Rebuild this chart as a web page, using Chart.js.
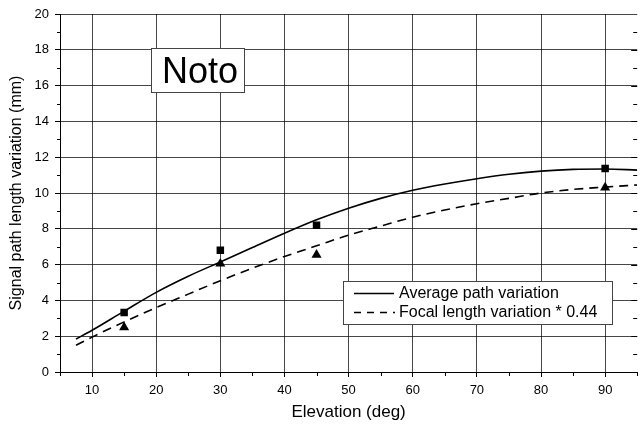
<!DOCTYPE html>
<html>
<head>
<meta charset="utf-8">
<script src="https://cdn.jsdelivr.net/npm/chart.js@4/dist/chart.umd.min.js"></script>
<style>
html,body{margin:0;padding:0;background:#fff;}
#wrap{width:643px;height:431px;position:relative;}
</style>
</head>
<body>
<div id="wrap"><canvas id="c" width="643" height="431"></canvas></div>
<script>
// ---- data ----
const curveElevation = [7.5, 10, 15, 20, 25, 30, 35, 40, 45, 50, 55, 60, 65, 70, 75, 80, 85, 90, 95];
const averagePath    = [1.84, 2.33, 3.4, 4.45, 5.35, 6.15, 6.95, 7.75, 8.5, 9.15, 9.7, 10.15, 10.5, 10.8, 11.05, 11.22, 11.32, 11.34, 11.28];
const focalScaled    = [1.49, 1.95, 2.8, 3.6, 4.35, 5.1, 5.8, 6.45, 7.05, 7.65, 8.15, 8.65, 9.05, 9.4, 9.7, 10.0, 10.2, 10.33, 10.45];
const measElevation  = [15, 30, 45, 90];
const measSquares    = [3.33, 6.8, 8.2, 11.37];
const measTriangles  = [2.5, 6.05, 6.55, 10.3];
const xTickValues    = [10, 20, 30, 40, 50, 60, 70, 80, 90];
const xMinorValues   = [5, 15, 25, 35, 45, 55, 65, 75, 85, 95];
const yMinorValues   = [1, 3, 5, 7, 9, 11, 13, 15, 17, 19];
const seriesLabels   = ['Average path variation', 'Focal length variation * 0.44'];
const annotationText = 'Noto';
const xTitle = 'Elevation (deg)';
const yTitle = 'Signal path length variation (mm)';

const FONT = "'Liberation Sans', Arial, Helvetica, sans-serif";
const pts = (xs, ys) => xs.map((x, i) => ({x: x, y: ys[i]}));

const extras = {
  id: 'extras',
  afterDraw(chart) {
    const ctx = chart.ctx;
    const xs = chart.scales.x, ys = chart.scales.y;
    const a = chart.chartArea;
    ctx.save();
    ctx.strokeStyle = '#000';
    ctx.lineWidth = 1;
    ctx.setLineDash([]);
    // minor x ticks (outside)
    xMinorValues.forEach(v => {
      const px = Math.round(xs.getPixelForValue(v)) + 0.5;
      ctx.beginPath(); ctx.moveTo(px, a.bottom); ctx.lineTo(px, a.bottom + 4); ctx.stroke();
    });
    // minor y ticks (outside)
    yMinorValues.forEach(v => {
      const py = Math.round(ys.getPixelForValue(v)) + 0.5;
      ctx.beginPath(); ctx.moveTo(a.left - 3, py); ctx.lineTo(a.left, py); ctx.stroke();
    });
    // right-side inward ticks
    for (let v = 1; v < 20; v++) {
      const py = Math.round(ys.getPixelForValue(v)) + 0.5;
      const len = (v % 2 === 0) ? 6 : 4;
      ctx.beginPath(); ctx.moveTo(a.right, py); ctx.lineTo(a.right - len, py); ctx.stroke();
    }
    // "Noto" annotation box
    const nb = {x: 151, y: 48, w: 93, h: 44};
    ctx.fillStyle = '#fff';
    ctx.fillRect(nb.x, nb.y, nb.w, nb.h);
    ctx.strokeStyle = '#444';
    ctx.strokeRect(nb.x + 0.5, nb.y + 0.5, nb.w, nb.h);
    ctx.fillStyle = '#000';
    ctx.font = '36px ' + FONT;
    ctx.textBaseline = 'alphabetic';
    ctx.textAlign = 'left';
    ctx.fillText(annotationText, 162, 83);
    // legend box
    const lb = {x: 343, y: 281, w: 269, h: 43};
    ctx.fillStyle = '#fff';
    ctx.fillRect(lb.x, lb.y, lb.w, lb.h);
    ctx.strokeStyle = '#444';
    ctx.strokeRect(lb.x + 0.5, lb.y + 0.5, lb.w, lb.h);
    ctx.strokeStyle = '#000';
    ctx.lineWidth = 1.5;
    ctx.beginPath(); ctx.moveTo(354, 293.5); ctx.lineTo(394, 293.5); ctx.stroke();
    ctx.setLineDash([7, 6]);
    ctx.beginPath(); ctx.moveTo(354, 312.5); ctx.lineTo(395, 312.5); ctx.stroke();
    ctx.setLineDash([]);
    ctx.fillStyle = '#000';
    ctx.font = '16px ' + FONT;
    ctx.textBaseline = 'middle';
    ctx.fillText(seriesLabels[0], 399, 294);
    ctx.fillText(seriesLabels[1], 399, 313);
    ctx.restore();
  }
};

new Chart(document.getElementById('c'), {
  type: 'scatter',
  data: {
    datasets: [
      {
        label: seriesLabels[0], type: 'line', data: pts(curveElevation, averagePath),
        borderColor: '#000', borderWidth: 1.6, pointRadius: 0, fill: false,
        cubicInterpolationMode: 'monotone'
      },
      {
        label: seriesLabels[1], type: 'line', data: pts(curveElevation, focalScaled),
        borderColor: '#000', borderWidth: 1.6, borderDash: [9, 6], pointRadius: 0, fill: false,
        cubicInterpolationMode: 'monotone'
      },
      {
        label: 'squares', data: pts(measElevation, measSquares), showLine: false,
        pointStyle: 'rect', pointRadius: 5.3, backgroundColor: '#000', borderColor: '#000', borderWidth: 0
      },
      {
        label: 'triangles', data: pts(measElevation, measTriangles), showLine: false,
        pointStyle: 'triangle', pointRadius: 5.8, backgroundColor: '#000', borderColor: '#000', borderWidth: 0
      }
    ]
  },
  options: {
    responsive: false,
    animation: false,
    devicePixelRatio: 1,
    layout: {padding: {top: 14, right: 0, bottom: 0, left: 0}},
    plugins: {legend: {display: false}, tooltip: {enabled: false}},
    scales: {
      x: {
        type: 'linear', min: 5, max: 95,
        afterBuildTicks: s => { s.ticks = xTickValues.map(v => ({value: v})); },
        afterFit: s => { s.height = 59; s.paddingLeft = 0; s.paddingRight = 0; },
        grid: {color: 'rgba(0,0,0,0.72)', lineWidth: 1, tickColor: '#000', tickLength: 5, drawTicks: true},
        border: {color: '#000', width: 1},
        ticks: {color: '#000', font: {family: FONT, size: 13}, padding: 6, maxRotation: 0, autoSkip: false},
        title: {display: true, text: xTitle, color: '#000', font: {family: FONT, size: 17}, padding: {top: 0, bottom: 8}}
      },
      y: {
        type: 'linear', min: 0, max: 20,
        ticks: {stepSize: 2, color: '#000', font: {family: FONT, size: 13}, padding: 6},
        afterFit: s => { s.width = 60; s.paddingTop = 0; s.paddingBottom = 0; },
        grid: {color: 'rgba(0,0,0,0.72)', lineWidth: 1, tickColor: '#000', tickLength: 5},
        border: {color: '#000', width: 1},
        title: {display: true, text: yTitle, color: '#000', font: {family: FONT, size: 16}, padding: {top: 7, bottom: 0}}
      }
    }
  },
  plugins: [extras]
});
</script>
</body>
</html>
